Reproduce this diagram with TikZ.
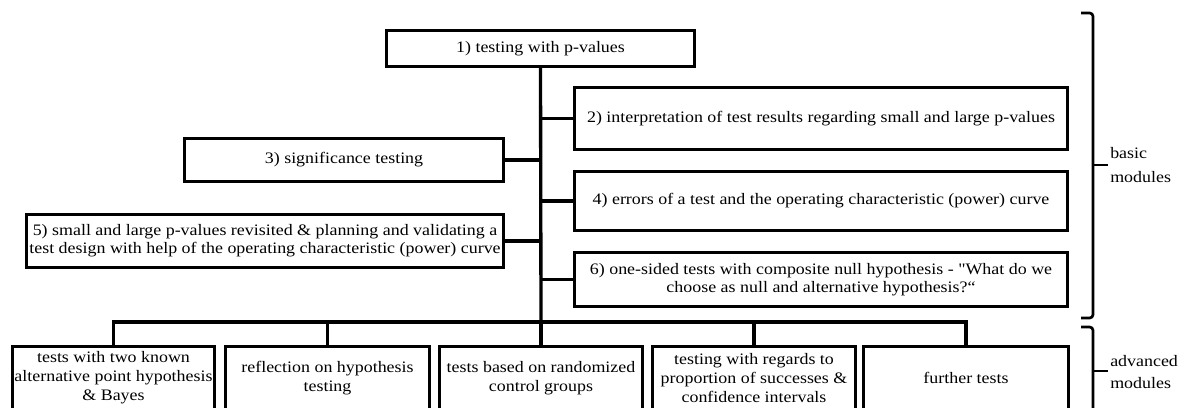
\documentclass[tikz,border=0pt]{standalone}
\usepackage{fontspec}
\setmainfont{Liberation Serif}[FakeStretch=1.12, Ligatures=TeXOff]
\begin{document}
\begin{tikzpicture}[x=0.75pt,y=-0.75pt,
  box/.style={draw, line width=2.5pt, inner sep=0pt, align=center, font=\fontsize{12}{13.5}\selectfont},
  conn/.style={line width=2.5pt},
  bracket/.style={line width=2pt, rounded corners=2.5pt},
  lab/.style={anchor=west, align=left, inner sep=0pt}]
\useasboundingbox (0,0) rectangle (1187,407);
\clip (0,0) rectangle (1187,407);
\fill[white] (0,0) rectangle (1187,407);
% basic modules
\node[box, minimum width=308*0.75pt, minimum height=36*0.75pt] (n1) at (540.5,48.5) {1) testing with p-values};
\node[box, minimum width=493*0.75pt, minimum height=62*0.75pt] (n2) at (821,118.5) {2) interpretation of test results regarding small and large p-values};
\node[box, minimum width=319*0.75pt, minimum height=43*0.75pt] (n3) at (344,160) {3) significance testing};
\node[box, minimum width=493*0.75pt, minimum height=59*0.75pt] (n4) at (821,201) {4) errors of a test and the operating characteristic (power) curve};
\node[box, minimum width=477*0.75pt, minimum height=53*0.75pt] (n5) at (265,241) {5) small and large p-values revisited \& planning and validating a\\test design with help of the operating characteristic (power) curve};
\node[box, minimum width=493*0.75pt, minimum height=54*0.75pt] (n6) at (821,279.5) {6) one-sided tests with composite null hypothesis - "What do we\\choose as null and alternative hypothesis?“};
% advanced modules
\node[box, minimum width=202*0.75pt, minimum height=63*0.75pt, font=\fontsize{12}{14.2}\selectfont] (ba) at (113.5,378) {tests with two known\\alternative point hypothesis\\\& Bayes};
\node[box, minimum width=204*0.75pt, minimum height=63*0.75pt, font=\fontsize{12}{14.2}\selectfont] (bb) at (327.5,378) {reflection on hypothesis\\testing};
\node[box, minimum width=203*0.75pt, minimum height=63*0.75pt, font=\fontsize{12}{14.2}\selectfont] (bc) at (541,378) {tests based on randomized\\control groups};
\node[box, minimum width=203*0.75pt, minimum height=63*0.75pt, font=\fontsize{12}{14.2}\selectfont] (bd) at (754,378) {testing with regards to\\proportion of successes \&\\confidence intervals};
\node[box, minimum width=205*0.75pt, minimum height=63*0.75pt] (be) at (966,378) {further tests};
% connectors
\coordinate (j) at (541,322);
\draw[conn] (n1.south) -- (j);
\draw[conn] (n2.west) -- (n2.west -| j);
\draw[conn] (n3.east) -- (n3.east -| j);
\draw[conn] (n4.west) -- (n4.west -| j);
\draw[conn] (n5.east) -- (n5.east -| j);
\draw[conn] (n6.west) -- (n6.west -| j);
\draw[conn] (ba.north) |- (j) -| (be.north);
\draw[conn] (bb.north) -- (bb.north |- j);
\draw[conn] (bc.north) -- (j);
\draw[conn] (bd.north) -- (bd.north |- j);
% brackets
\draw[bracket] (1081,13) -| (1093,318) -- (1081,318);
\draw[bracket] (1093,165) -- (1108,165);
\draw[bracket] (1081,327) -| (1093,420);
\draw[bracket] (1093,371) -- (1108,371);
\node[lab, font=\fontsize{12}{18}\selectfont] (lb) at (1110,165) {basic\\modules};
\node[lab, font=\fontsize{12}{16}\selectfont] (la) at (1110,372) {advanced\\modules};
\end{tikzpicture}
\end{document}
